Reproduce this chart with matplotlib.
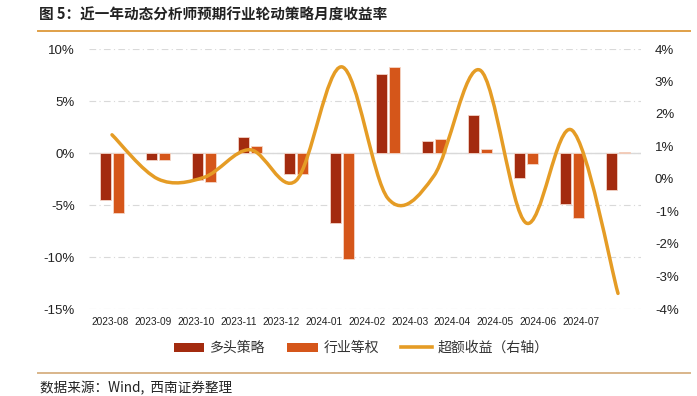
import numpy as np
import matplotlib
matplotlib.use("Agg")
import matplotlib.pyplot as plt
from matplotlib.path import Path
from matplotlib.patches import PathPatch, Patch
from matplotlib.lines import Line2D
from matplotlib.ticker import FuncFormatter

plt.rcParams['font.family'] = ['Liberation Sans', 'Noto Sans CJK SC', 'DejaVu Sans']
CJK = ['Noto Sans CJK SC', 'DejaVu Sans']

months = ['2023-08', '2023-09', '2023-10', '2023-11', '2023-12', '2024-01',
          '2024-02', '2024-03', '2024-04', '2024-05', '2024-06', '2024-07']
long_strategy = [-4.52, -0.67, -2.60, 1.50, -2.05, -6.76, 7.56, 1.18, 3.62, -2.44, -4.87, -3.59]
industry_eq = [-5.80, -0.67, -2.76, 0.67, -2.05, -10.20, 8.30, 1.30, 0.35, -1.03, -6.25, 0.05]
excess = [1.36, 0.00, 0.05, 0.90, -0.05, 3.45, -0.60, 0.10, 3.35, -1.35, 1.50, -3.52]

C_DARK = '#A32B0F'
C_ORANGE = '#D5561A'
C_LINE = '#E59C25'
C_GRID = '#D9D9D9'

fig = plt.figure(figsize=(6.97, 3.96), dpi=100)
ax = fig.add_axes([89/697, 1-309/396, (641-89)/697, (309-49)/396])
ax2 = ax.twinx()

x = np.arange(len(months))
w = 0.235
off = 0.135
ax.bar(x - off, long_strategy, width=w, color=C_DARK, edgecolor='#F3D3C6', linewidth=0.6, zorder=3)
ax.bar(x + off, industry_eq, width=w, color=C_ORANGE, edgecolor='#F6D6C6', linewidth=0.6, zorder=3)

ax.set_xlim(-0.5, len(months) - 0.5)
ax.set_ylim(-15, 10)
ax.set_yticks([-15, -10, -5, 0, 5, 10])
ax.yaxis.set_major_formatter(FuncFormatter(lambda v, p: f'{v:.0f}%'))
ax.grid(axis='y', color=C_GRID, linestyle=(0, (6, 3, 1, 3)), linewidth=0.8, zorder=0)
ax.axhline(0, color=C_GRID, linewidth=1.0, zorder=1)
ax.set_xticks(np.arange(len(months)) * 0.93 - 0.04)
ax.set_xticklabels(months)
ax.tick_params(axis='x', length=0, pad=6, labelsize=7.3, colors='#222222')
ax.tick_params(axis='y', length=0, pad=10, labelsize=9.5, colors='#222222')
for s in ax.spines.values():
    s.set_visible(False)

# smoothed excess-return line (Bezier through the monthly points)
P = np.array(excess, dtype=float)
n = len(P)
verts = [(x[0], P[0])]
codes = [Path.MOVETO]
for i in range(n - 1):
    pm = P[i - 1] if i > 0 else P[i]
    pp = P[i + 2] if i + 2 < n else P[i + 1]
    xm = x[i - 1] if i > 0 else x[i]
    xp = x[i + 2] if i + 2 < n else x[i + 1]
    c1 = (x[i] + (x[i + 1] - xm) / 6, P[i] + (P[i + 1] - pm) / 6)
    c2 = (x[i + 1] - (xp - x[i]) / 6, P[i + 1] - (pp - P[i]) / 6)
    verts += [c1, c2, (x[i + 1], P[i + 1])]
    codes += [Path.CURVE4] * 3
ax2.add_patch(PathPatch(Path(verts, codes), facecolor='none', edgecolor=C_LINE,
                        linewidth=2.5, capstyle='round', joinstyle='round', zorder=4))
ax2.set_ylim(-4, 4)
ax2.set_yticks(np.arange(-4, 5, 1))
ax2.yaxis.set_major_formatter(FuncFormatter(lambda v, p: f'{v:.0f}%'))
ax2.tick_params(axis='y', length=0, pad=10, labelsize=9.5, colors='#222222')
for s in ax2.spines.values():
    s.set_visible(False)

# legend
handles = [Patch(facecolor=C_DARK, edgecolor='none'),
           Patch(facecolor=C_ORANGE, edgecolor='none'),
           Line2D([], [], color=C_LINE, linewidth=2.6)]
labels = ['多头策略', '行业等权', '超额收益（右轴）']
fig.legend(handles, labels, loc='center', bbox_to_anchor=(361/697, 1-348/396), ncol=3,
           frameon=False, prop={'family': CJK, 'size': 10}, handlelength=2.2,
           handleheight=0.6, handletextpad=0.4, columnspacing=1.6, labelcolor='#333333')

# title, rules and source
fig.text(39/697, 1-15/396, '图 5：近一年动态分析师预期行业轮动策略月度收益率',
         family=CJK, fontsize=10.5, fontweight='bold', va='center', ha='left', color='#222222')
fig.add_artist(Line2D([38/697, 690/697], [1-30.7/396, 1-30.7/396], color='#E0A048',
                      linewidth=1.4, transform=fig.transFigure))
fig.add_artist(Line2D([38/697, 690/697], [1-372.7/396, 1-372.7/396], color='#D9B68A',
                      linewidth=1.4, transform=fig.transFigure))
fig.text(40/697, 1-388/396, '数据来源：Wind,  西南证券整理', family=CJK, fontsize=9.8,
         style='italic', va='center', ha='left', color='#222222')

fig.savefig('out.png', dpi=100)
